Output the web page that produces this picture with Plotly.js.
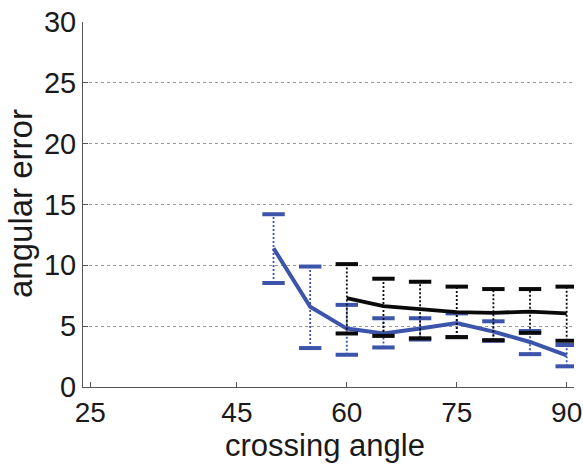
<!DOCTYPE html>
<html>
<head>
<meta charset="utf-8">
<script src="https://cdn.plot.ly/plotly-3.0.1.min.js"></script>
<style>html,body{margin:0;padding:0;background:#fff;}#chart{width:583px;height:466px;}</style>
</head>
<body>
<div id="chart"></div>
<script>
// crossing angle (x) values
var blueX = [50, 55, 60, 65, 70, 75, 80, 85, 90];
var blueMean = [11.4, 6.6, 4.8, 4.4, 4.8, 5.25, 4.55, 3.7, 2.6];
var blueHigh = [14.2, 9.9, 6.75, 5.65, 5.65, 6.05, 5.4, 4.6, 3.45];
var blueLow = [8.55, 3.2, 2.65, 3.25, 3.9, 4.1, 3.8, 2.7, 1.7];

var blackX = [60, 65, 70, 75, 80, 85, 90];
var blackMean = [7.3, 6.65, 6.4, 6.15, 6.1, 6.2, 6.05];
var blackHigh = [10.1, 8.9, 8.65, 8.25, 8.05, 8.05, 8.25];
var blackLow = [4.4, 4.2, 4.0, 4.1, 3.85, 4.45, 3.8];

var xTicks = [25, 45, 60, 75, 90];
var yTicks = [0, 5, 10, 15, 20, 25, 30];
var xLabel = 'crossing angle';
var yLabel = 'angular error';

var BLUE = 'rgb(60,84,170)';
var BLACK = 'rgb(10,10,10)';

function stems(xs, lo, hi) {
  var x = [], y = [];
  for (var i = 0; i < xs.length; i++) {
    x.push(xs[i], xs[i], null);
    y.push(lo[i], hi[i], null);
  }
  return {x: x, y: y};
}

function seriesTraces(xs, mean, lo, hi, color, lw) {
  var s = stems(xs, lo, hi);
  return [
    {x: s.x, y: s.y, type: 'scatter', mode: 'lines', connectgaps: false,
     line: {color: color, width: 1.8, dash: '2px,2px'}, hoverinfo: 'skip'},
    {x: xs.concat(xs), y: hi.concat(lo), type: 'scatter', mode: 'markers',
     marker: {symbol: 'line-ew', size: 16, line: {color: color, width: 4}}, hoverinfo: 'skip'},
    {x: xs, y: mean, type: 'scatter', mode: 'lines',
     line: {color: color, width: lw}}
  ];
}

var data = [].concat(
  seriesTraces(blueX, blueMean, blueLow, blueHigh, BLUE, 4),
  seriesTraces(blackX, blackMean, blackLow, blackHigh, BLACK, 3.8)
);

var font = 'Liberation Sans, Arial, Helvetica, sans-serif';
var TXT = '#1a1a1a';
var layout = {
  width: 583, height: 466,
  margin: {l: 83, r: 9, t: 22, b: 79},
  paper_bgcolor: '#fff', plot_bgcolor: '#fff',
  showlegend: false,
  font: {family: font, size: 29, color: TXT},
  xaxis: {
    range: [24, 91], tickmode: 'array', tickvals: xTicks,
    ticks: 'inside', ticklen: 5, tickcolor: '#555', tickwidth: 1,
    showgrid: false, zeroline: false,
    showline: true, linecolor: '#555', linewidth: 1,
    ticklabeloverflow: 'allow',
    tickfont: {size: 28, family: font, color: TXT}
  },
  yaxis: {
    range: [0, 30], tickmode: 'array', tickvals: yTicks,
    ticks: 'inside', ticklen: 5, tickcolor: '#555', tickwidth: 1,
    showgrid: true, gridcolor: '#9a9a9a', griddash: 'dot', gridwidth: 1,
    zeroline: false,
    showline: true, linecolor: '#555', linewidth: 1,
    ticklabeloverflow: 'allow',
    tickfont: {size: 29, family: font, color: TXT}
  },
  annotations: [
    {text: xLabel, xref: 'paper', yref: 'paper', x: (325 - 83) / 491, y: -(445 - 387) / 365,
     xanchor: 'center', yanchor: 'middle', showarrow: false,
     font: {size: 31, family: font, color: TXT}},
    {text: yLabel, xref: 'paper', yref: 'paper', x: (21 - 83) / 491, y: (387 - 204) / 365,
     xanchor: 'center', yanchor: 'middle', showarrow: false, textangle: -90,
     font: {size: 33, family: font, color: TXT}}
  ]
};

Plotly.newPlot('chart', data, layout, {staticPlot: true, displayModeBar: false});
</script>
</body>
</html>
